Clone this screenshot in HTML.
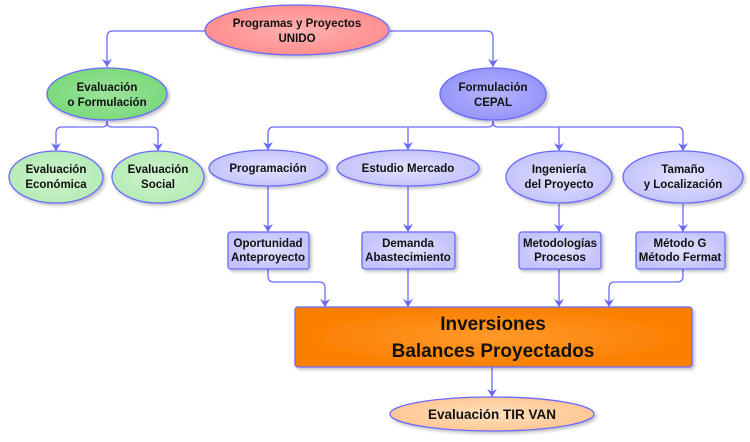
<!DOCTYPE html>
<html><head><meta charset="utf-8"><style>
html,body{margin:0;padding:0;background:#fff;}
svg{display:block;}
text{font-family:"Liberation Sans","DejaVu Sans",sans-serif;font-weight:bold;fill:#111;text-anchor:middle;}
</style></head><body>
<svg width="750" height="442" viewBox="0 0 750 442" xmlns="http://www.w3.org/2000/svg">
<defs>
<marker id="a" markerWidth="10" markerHeight="10" refX="8" refY="5" orient="auto" markerUnits="userSpaceOnUse">
<path d="M0,0 L8,5 L0,10 L2.5,5 Z" fill="#6a6aff"/>
</marker>
<radialGradient id="red"><stop offset="0" stop-color="#ffb0b0"/><stop offset="1" stop-color="#ff8f8f"/></radialGradient>
<radialGradient id="grn"><stop offset="0" stop-color="#9be49b"/><stop offset="1" stop-color="#7cd97c"/></radialGradient>
<radialGradient id="lgr"><stop offset="0" stop-color="#d2f4d2"/><stop offset="1" stop-color="#b5ebb5"/></radialGradient>
<radialGradient id="cep"><stop offset="0" stop-color="#b4b4ff"/><stop offset="1" stop-color="#9696fa"/></radialGradient>
<radialGradient id="lav"><stop offset="0" stop-color="#e2e2ff"/><stop offset="1" stop-color="#c4c4fc"/></radialGradient>
<radialGradient id="org"><stop offset="0" stop-color="#ff9a2a"/><stop offset="1" stop-color="#fb7f00"/></radialGradient>
<radialGradient id="pch"><stop offset="0" stop-color="#ffe0bd"/><stop offset="1" stop-color="#ffc894"/></radialGradient>
<filter id="s" x="-10%" y="-10%" width="130%" height="140%"><feDropShadow dx="2" dy="2" stdDeviation="1.5" flood-color="#000" flood-opacity="0.25"/></filter>
</defs>
<g fill="none" stroke="#6a6aff" stroke-width="1.3" stroke-linejoin="round">
<path d="M205,31 H113 Q107,31 107,37 V67" marker-end="url(#a)"/>
<path d="M390,31 H487 Q493,31 493,37 V67" marker-end="url(#a)"/>
<path d="M107,121 V122 Q107,127 102,127 H62 Q56,127 56,133 V151" marker-end="url(#a)"/>
<path d="M107,121 V122 Q107,127 112,127 H152 Q158,127 158,133 V151" marker-end="url(#a)"/>
<path d="M493,121 V122 Q493,127 488,127 H274 Q268,127 268,133 V150" marker-end="url(#a)"/>
<path d="M408,127 V150" marker-end="url(#a)"/>
<path d="M493,121 V122 Q493,127 498,127 H677 Q683,127 683,133 V151" marker-end="url(#a)"/>
<path d="M559,127 V151" marker-end="url(#a)"/>
<path d="M268,186 V232" marker-end="url(#a)"/>
<path d="M408,186 V232" marker-end="url(#a)"/>
<path d="M559,204 V232" marker-end="url(#a)"/>
<path d="M683,204 V232" marker-end="url(#a)"/>
<path d="M268,269 V276 Q268,282 274,282 H319 Q325,282 325,288 V307" marker-end="url(#a)"/>
<path d="M408,269 V307" marker-end="url(#a)"/>
<path d="M559,269 V307" marker-end="url(#a)"/>
<path d="M683,269 V276 Q683,282 677,282 H615 Q609,282 609,288 V307" marker-end="url(#a)"/>
<path d="M492,367 V397" marker-end="url(#a)"/>
</g>
<g stroke="#6a6aff" stroke-width="1.3" filter="url(#s)">
<ellipse cx="297" cy="30" rx="92" ry="25" fill="url(#red)"/>
<ellipse cx="107" cy="94" rx="60" ry="26" fill="url(#grn)"/>
<ellipse cx="493" cy="94" rx="53" ry="26" fill="url(#cep)"/>
<ellipse cx="56" cy="177" rx="47" ry="26" fill="url(#lgr)"/>
<ellipse cx="158" cy="177" rx="46" ry="26" fill="url(#lgr)"/>
<ellipse cx="268" cy="168" rx="59" ry="18" fill="url(#lav)"/>
<ellipse cx="408" cy="168" rx="71" ry="18" fill="url(#lav)"/>
<ellipse cx="559" cy="177" rx="53" ry="26" fill="url(#lav)"/>
<ellipse cx="683" cy="177" rx="60" ry="26" fill="url(#lav)"/>
<rect x="228" y="232" width="81" height="37" rx="3" fill="url(#lav)"/>
<rect x="362" y="232" width="93" height="37" rx="3" fill="url(#lav)"/>
<rect x="519" y="232" width="82" height="37" rx="3" fill="url(#lav)"/>
<rect x="636" y="232" width="89" height="37" rx="3" fill="url(#lav)"/>
<rect x="295" y="307" width="397" height="60" rx="3" fill="url(#org)"/>
<ellipse cx="492" cy="414" rx="102" ry="17" fill="url(#pch)"/>
</g>
<g font-size="11.5">
<text x="297" y="27">Programas y Proyectos</text><text x="297" y="42">UNIDO</text>
<text x="107" y="91">Evaluación</text><text x="107" y="106">o Formulación</text>
<text x="493" y="91">Formulación</text><text x="493" y="106">CEPAL</text>
<text x="56" y="173">Evaluación</text><text x="56" y="188">Económica</text>
<text x="158" y="173">Evaluación</text><text x="158" y="188">Social</text>
<text x="268" y="172">Programación</text>
<text x="408" y="172">Estudio Mercado</text>
<text x="559" y="173">Ingeniería</text><text x="559" y="188">del Proyecto</text>
<text x="683" y="173">Tamaño</text><text x="683" y="188">y Localización</text>
<text x="268" y="247">Oportunidad</text><text x="268" y="261">Anteproyecto</text>
<text x="408" y="247">Demanda</text><text x="408" y="261">Abastecimiento</text>
<text x="560" y="247">Metodologías</text><text x="560" y="261">Procesos</text>
<text x="680" y="247">Método G</text><text x="680" y="261">Método Fermat</text>
</g>
<text x="493" y="330" font-size="19">Inversiones</text>
<text x="493" y="357" font-size="19">Balances Proyectados</text>
<text x="492" y="419" font-size="13.5">Evaluación TIR VAN</text>
</svg>
</body></html>
